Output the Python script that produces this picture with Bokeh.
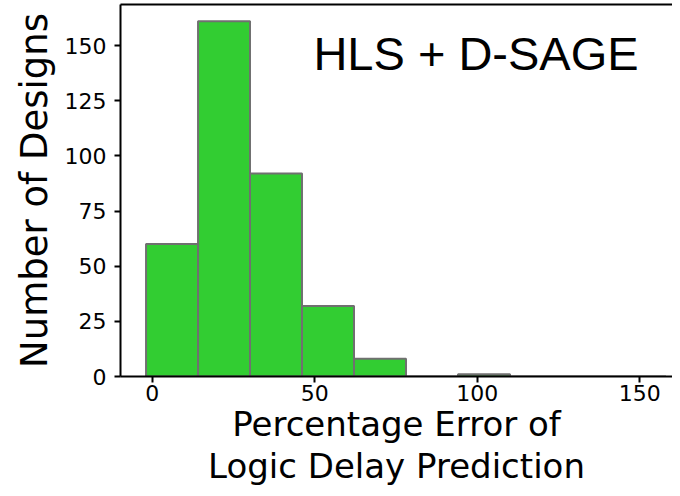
from bokeh.plotting import figure
from bokeh.models import Range1d, FixedTicker, LinearAxis, Label
from bokeh.embed import file_html
from bokeh.resources import INLINE

# Histogram data
bin_edges = [-1.9, 14.1, 30.1, 46.1, 62.1, 78.1, 94.1, 110.1, 126.1, 142.1, 158.1]
counts = [60, 161, 92, 32, 8, 0, 1, 0, 0, 0]
x_ticks = [0, 50, 100, 150]
y_ticks = [0, 25, 50, 75, 100, 125, 150]
title_text = "HLS + D-SAGE"
x_label = "Percentage Error of\nLogic Delay Prediction"
y_label = "Number of Designs"

p = figure(width=672, height=488, output_backend="svg", toolbar_location=None,
           x_range=Range1d(-9.76, 160.1), y_range=Range1d(0, 168.6),
           min_border_left=120, min_border_right=0, min_border_top=4,
           min_border_bottom=110)

p.quad(left=bin_edges[:-1], right=bin_edges[1:], bottom=0, top=counts,
       fill_color="#32CD32", line_color="#707070", line_width=2)

p.grid.visible = False
p.outline_line_color = None
p.background_fill_color = "white"
p.border_fill_color = "white"

for ax, ticks in ((p.xaxis[0], x_ticks), (p.yaxis[0], y_ticks)):
    ax.ticker = FixedTicker(ticks=ticks)
    ax.minor_tick_line_color = None
    ax.major_tick_in = 0
    ax.major_tick_out = 6
    ax.major_tick_line_width = 2
    ax.axis_line_width = 2
    ax.axis_line_color = "black"
    ax.major_tick_line_color = "black"
    ax.major_label_text_font = "DejaVu Sans"
    ax.major_label_text_font_size = "22px"
    ax.major_label_text_color = "black"
    ax.axis_label_text_font = "DejaVu Sans"
    ax.axis_label_text_font_style = "normal"
    ax.axis_label_text_color = "black"
    ax.axis_label_text_font_size = "34px"

p.xaxis.axis_label = x_label
p.xaxis.major_label_standoff = 2
p.xaxis.axis_label_standoff = 0
p.xaxis.axis_label_text_line_height = 1.05

p.yaxis.axis_label = y_label
p.yaxis.major_label_standoff = 8
p.yaxis.axis_label_standoff = 6
p.yaxis.axis_label_text_font_size = "37px"

top_axis = LinearAxis(ticker=FixedTicker(ticks=[]), axis_line_width=2,
                      axis_line_color="black", major_tick_out=0, major_tick_in=0,
                      minor_tick_out=0, minor_tick_in=0,
                      major_label_text_font_size="0px")
p.add_layout(top_axis, "above")

p.add_layout(Label(x=49.6, y=146.3, text=title_text, text_font="Liberation Sans",
                   text_font_size="47px", text_color="black",
                   text_baseline="alphabetic", text_align="left"))

open("out.html", "w").write(file_html(p, INLINE))
